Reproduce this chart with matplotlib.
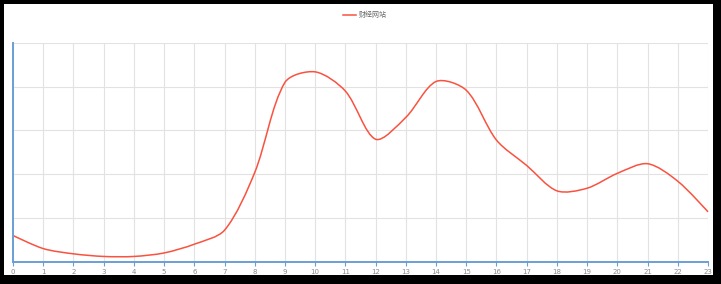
import numpy as np
import matplotlib
matplotlib.use("Agg")
import matplotlib.pyplot as plt
from matplotlib.path import Path
from matplotlib.patches import PathPatch, Rectangle
from matplotlib.lines import Line2D

# 每小时访问量
hours = list(range(24))
visits = [30, 15, 9, 6, 6, 10, 20, 36, 102, 205, 217, 195,
          140, 165, 206, 196, 139, 110, 81, 84, 101, 112, 92, 57]
series_name = "财经网站"

line_color = "#f9523f"
axis_color = "#6a9fd4"
grid_color = "#e2e2e2"

W, H = 721, 284
fig = plt.figure(figsize=(W / 100, H / 100), dpi=100, facecolor="black")
# white card inside black frame
fig.patches.append(Rectangle((4 / W, 9 / H), 709 / W, 271 / H,
                             transform=fig.transFigure, facecolor="white",
                             edgecolor="none", zorder=-10))

ax = fig.add_axes([13 / W, (H - 261.7) / H, 695 / W, 218.7 / H])
ax.set_zorder(1)
ax.set_facecolor("none")
ax.set_xlim(0, 23)
ax.set_ylim(0, 250)
ax.set_xticks(hours)
ax.set_yticks(np.arange(0, 251, 50))
ax.set_yticklabels([])
ax.grid(True, color=grid_color, lw=0.8)
ax.set_axisbelow(True)
ax.tick_params(axis="y", length=0)
ax.tick_params(axis="x", length=3, color=axis_color, width=0.8,
               labelsize=5, labelcolor="#8a8a8a", pad=2.5)
for s in ("top", "right"):
    ax.spines[s].set_visible(False)
ax.spines["left"].set_color(axis_color)
ax.spines["left"].set_linewidth(1.4)
ax.spines["bottom"].set_color(axis_color)
ax.spines["bottom"].set_linewidth(1.4)

# smooth line (bezier control points computed in pixel space)
pts = ax.transData.transform(np.column_stack([hours, visits]))
smooth = 0.3
n = len(pts)
cp_in = pts.copy()
cp_out = pts.copy()
for i in range(1, n - 1):
    prev, cur, nxt = pts[i - 1], pts[i], pts[i + 1]
    v = (nxt - prev) * smooth
    d0 = np.linalg.norm(cur - prev)
    d1 = np.linalg.norm(nxt - cur)
    cp_in[i] = cur - v * d0 / (d0 + d1)
    cp_out[i] = cur + v * d1 / (d0 + d1)
verts = [pts[0]]
codes = [Path.MOVETO]
for i in range(n - 1):
    verts += [cp_out[i], cp_in[i + 1], pts[i + 1]]
    codes += [Path.CURVE4] * 3
verts = ax.transData.inverted().transform(np.array(verts))
ax.add_patch(PathPatch(Path(verts, codes), facecolor="none",
                       edgecolor=line_color, lw=1.1, clip_on=False))

handle = Line2D([], [], color=line_color, lw=1.1)
fig.legend([handle], [series_name], loc="center",
           bbox_to_anchor=(365 / W, 1 - 15 / H), frameon=False,
           prop={"family": ["Noto Sans CJK SC", "DejaVu Sans"], "size": 5},
           labelcolor="#666666", handlelength=1.8, handletextpad=0.4)

fig.savefig("out.png", dpi=100, facecolor="black")
